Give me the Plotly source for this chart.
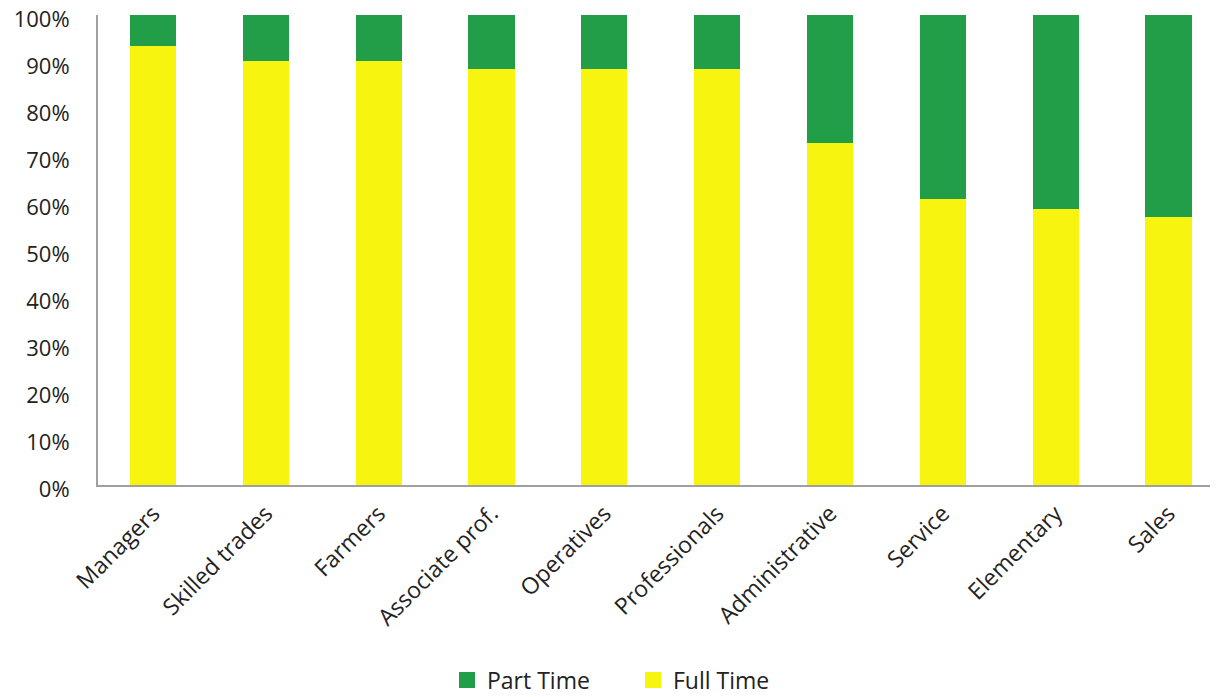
import plotly.graph_objects as go

categories = ["Managers", "Skilled trades", "Farmers", "Associate prof.", "Operatives",
              "Professionals", "Administrative", "Service", "Elementary", "Sales"]
full_time = [93.4, 90.2, 90.2, 88.5, 88.5, 88.5, 72.8, 60.9, 58.7, 57.0]
part_time = [round(100 - v, 1) for v in full_time]
y_ticks = [0, 10, 20, 30, 40, 50, 60, 70, 80, 90, 100]
y_tick_labels = [f"{v}%" for v in y_ticks]

FONT = "'Open Sans', Lato, sans-serif"
GREEN = "#239E48"
YELLOW = "#F7F50F"

x_idx = list(range(len(categories)))

fig = go.Figure()
fig.add_trace(go.Bar(x=x_idx, y=full_time, name="Full Time", marker_color=YELLOW,
                     marker_line_width=0, showlegend=False))
fig.add_trace(go.Bar(x=x_idx, y=part_time, name="Part Time", marker_color=GREEN,
                     marker_line_width=0, showlegend=False))
# legend entries with larger square swatches
fig.add_trace(go.Scatter(x=[None], y=[None], mode="markers", name="Part Time",
                         marker=dict(symbol="square", size=18, color=GREEN)))
fig.add_trace(go.Scatter(x=[None], y=[None], mode="markers", name="Full Time",
                         marker=dict(symbol="square", size=18, color=YELLOW)))

fig.update_layout(
    width=1218, height=697,
    barmode="stack",
    bargap=0.59,
    plot_bgcolor="white",
    paper_bgcolor="white",
    margin=dict(l=90, r=0, t=7, b=220, autoexpand=False),
    font=dict(family=FONT, size=19, color="#222222"),
    legend=dict(orientation="h", traceorder="normal",
                x=439 / 1218, xanchor="left", xref="container",
                y=25 / 697, yref="container", yanchor="middle",
                font=dict(size=23, family=FONT, color="#222222"),
                entrywidth=141, itemwidth=30),
    showlegend=True,
)
fig.update_xaxes(
    tickmode="array", tickvals=x_idx, ticktext=categories,
    range=[-0.4876, 9.51],
    tickangle=-45,
    showline=True, linecolor="#A0A0A0", linewidth=2,
    showgrid=False, ticks="", zeroline=False, automargin=False,
    ticklabelstandoff=4,
    tickfont=dict(size=23, family=FONT, color="#222222"),
)
fig.update_yaxes(
    range=[0, 100],
    tickmode="array", tickvals=y_ticks, ticktext=y_tick_labels,
    showline=True, linecolor="#A0A0A0", linewidth=2,
    showgrid=False, ticks="", zeroline=False, automargin=False,
    ticklabelstandoff=22, ticklabeloverflow="allow", ticklabelshift=4,
    tickfont=dict(size=22, family=FONT, color="#222222"),
)

fig.write_html("out.html")
